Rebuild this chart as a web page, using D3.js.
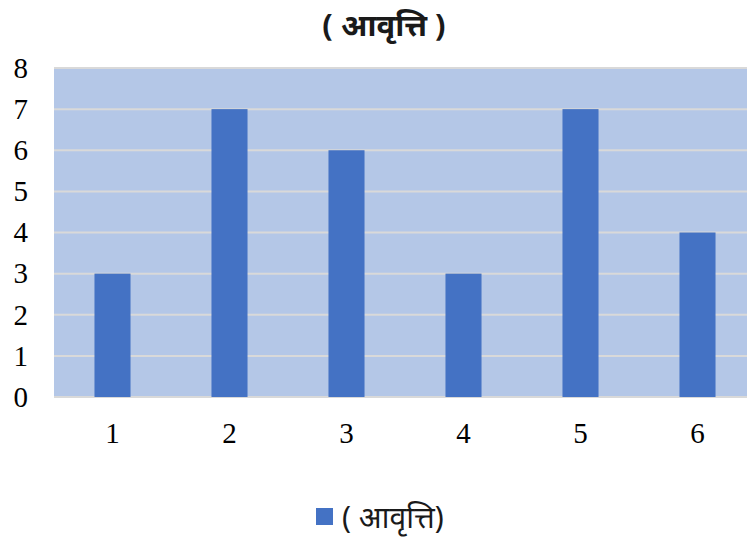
<!DOCTYPE html>
<html>
<head>
<meta charset="utf-8">
<script src="https://cdn.jsdelivr.net/npm/d3@7"></script>
<style>
  body { margin: 0; background: #fff; }
  svg { display: block; }
  .lbl { font-family: 'Liberation Serif', 'Times New Roman', serif; font-size: 29px; fill: #000; }
</style>
</head>
<body>
<svg id="chart"></svg>
<script>
// data
let categories = ["1", "2", "3", "4", "5", "6"];
let values = [3, 7, 6, 3, 7, 4];
let yTicks = [0, 1, 2, 3, 4, 5, 6, 7, 8];
let seriesName = "( आवृत्ति)";
let title = "( आवृत्ति )";

function makeBarChart() {
    let w = 747;
    let h = 537;
    let left = 54, right = 756, top = 68, bottom = 397;

    let svg = d3.select("#chart")
        .attr("width", w)
        .attr("height", h);

    let x = d3.scaleBand()
        .domain(categories)
        .range([left, right])
        .paddingInner(0.692)
        .paddingOuter(0.346);

    let y = d3.scaleLinear()
        .domain([0, 8])
        .range([bottom, top]);

    // plot background
    svg.append("rect")
        .attr("x", left)
        .attr("y", top)
        .attr("width", right - left)
        .attr("height", bottom - top)
        .attr("fill", "#b4c7e7");

    // gridlines
    svg.selectAll(".grid")
        .data(yTicks)
        .enter()
        .append("line")
        .attr("class", "grid")
        .attr("x1", left)
        .attr("x2", right)
        .attr("y1", d => y(d))
        .attr("y2", d => y(d))
        .attr("stroke", "#d9d9d9")
        .attr("stroke-width", 2);

    // bars
    svg.selectAll(".bar")
        .data(values)
        .enter()
        .append("rect")
        .attr("class", "bar")
        .attr("x", (d, i) => x(categories[i]))
        .attr("y", d => y(d))
        .attr("width", x.bandwidth())
        .attr("height", d => y(0) - y(d))
        .attr("fill", "#4472c4");

    // y labels
    svg.selectAll(".ylbl")
        .data(yTicks)
        .enter()
        .append("text")
        .attr("class", "lbl ylbl")
        .attr("x", 28)
        .attr("y", d => y(d))
        .attr("dy", "0.34em")
        .attr("text-anchor", "end")
        .text(d => d);

    // x labels
    svg.selectAll(".xlbl")
        .data(categories)
        .enter()
        .append("text")
        .attr("class", "lbl xlbl")
        .attr("x", d => x(d) + x.bandwidth() / 2)
        .attr("y", 443)
        .attr("text-anchor", "middle")
        .text(d => d);

    // title
    svg.append("text")
        .attr("x", 384)
        .attr("y", 36)
        .attr("text-anchor", "middle")
        .attr("font-family", "'Noto Sans', sans-serif")
        .attr("font-size", "31px")
        .attr("font-weight", "bold")
        .attr("fill", "#1a1a1a")
        .text(title);

    // legend
    svg.append("rect")
        .attr("x", 316)
        .attr("y", 508)
        .attr("width", 17)
        .attr("height", 17)
        .attr("fill", "#4472c4");
    svg.append("text")
        .attr("x", 342)
        .attr("y", 528)
        .attr("font-family", "'Noto Sans', sans-serif")
        .attr("font-size", "30px")
        .attr("fill", "#1a1a1a")
        .text(seriesName);
}

window.onload = function() {
    makeBarChart();
}
</script>
</body>
</html>
